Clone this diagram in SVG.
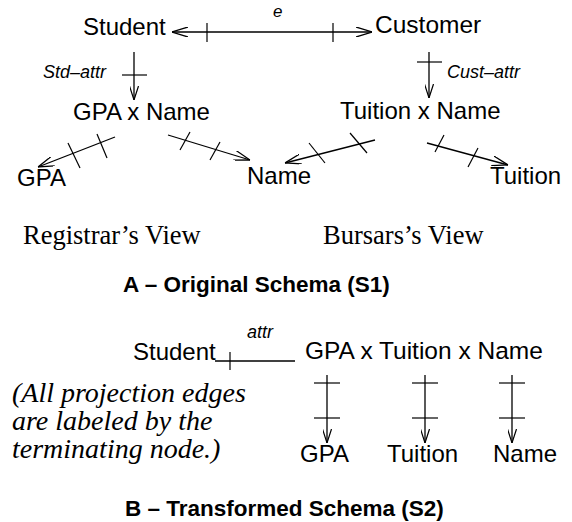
<svg xmlns="http://www.w3.org/2000/svg" width="572" height="522" viewBox="0 0 572 522">
  <style>
    .node { font-family: "Liberation Sans", Arial, sans-serif; font-size: 24px; fill: #000; }
    .lbl { font-family: "Liberation Sans", Arial, sans-serif; font-size: 18px; font-style: italic; fill: #000; }
    .view { font-family: "Liberation Serif", "Times New Roman", serif; font-size: 26.5px; fill: #000; }
    .note { font-family: "Liberation Serif", "Times New Roman", serif; font-size: 28px; font-style: italic; fill: #000; }
    .title { font-family: "Liberation Sans", Arial, sans-serif; font-size: 22.5px; font-weight: bold; fill: #000; }
    .edge { stroke: #000; stroke-width: 1.3; fill: none; }
    .tick { stroke: #000; stroke-width: 1.2; fill: none; }
  </style>
  <defs>
    <marker id="open" viewBox="0 0 16 10" refX="16" refY="5" markerWidth="16" markerHeight="10" markerUnits="userSpaceOnUse" orient="auto-start-reverse">
      <path d="M0,0 L16,5 L0,10" fill="none" stroke="#000" stroke-width="1.3"/>
    </marker>
    <marker id="openS" viewBox="0 0 14 9" refX="14" refY="4.5" markerWidth="14" markerHeight="9" markerUnits="userSpaceOnUse" orient="auto">
      <path d="M0,0 L14,4.5 L0,9" fill="none" stroke="#000" stroke-width="1.2"/>
    </marker>
  </defs>

  <!-- A: original schema -->
  <g id="a-student"><text class="node" x="83" y="35">Student</text></g>
  <g id="a-customer"><text class="node" x="375" y="33" style="font-size:24.5px">Customer</text></g>
  <g id="a-gpa-name"><text class="node" x="73" y="120">GPA x Name</text></g>
  <g id="a-tuition-name"><text class="node" x="340" y="119">Tuition x Name</text></g>
  <g id="a-gpa"><text class="node" x="17" y="186">GPA</text></g>
  <g id="a-name"><text class="node" x="247" y="184">Name</text></g>
  <g id="a-tuition"><text class="node" x="490" y="184">Tuition</text></g>

  <g id="a-connectors">
    <!-- e : Student <-> Customer -->
    <line class="edge" x1="172" y1="32" x2="372" y2="32" marker-start="url(#open)" marker-end="url(#open)"/>
    <line class="tick" x1="207" y1="23" x2="207" y2="42"/>
    <line class="tick" x1="333" y1="23" x2="333" y2="42"/>
    <text class="lbl" x="273" y="17" style="font-size:17px">e</text>

    <!-- Std-attr -->
    <line class="edge" x1="134" y1="52" x2="134" y2="100" marker-end="url(#openS)"/>
    <line class="tick" x1="122" y1="75" x2="147" y2="75"/>
    <text class="lbl" x="43" y="78">Std–attr</text>

    <!-- Cust-attr -->
    <line class="edge" x1="429" y1="52" x2="429" y2="98" marker-end="url(#openS)"/>
    <line class="tick" x1="417" y1="62" x2="442" y2="62"/>
    <text class="lbl" x="447" y="78">Cust–attr</text>

    <!-- GPA x Name projections -->
    <line class="edge" x1="115" y1="137" x2="38" y2="167" marker-end="url(#open)"/>
    <line class="tick" x1="68" y1="143" x2="80" y2="168"/>
    <line class="tick" x1="97" y1="134" x2="107" y2="158"/>
    <line class="edge" x1="168" y1="135" x2="250" y2="160" marker-end="url(#open)"/>
    <line class="tick" x1="190" y1="132" x2="180" y2="150"/>
    <line class="tick" x1="220" y1="142" x2="210" y2="160"/>

    <!-- Tuition x Name projections -->
    <line class="edge" x1="375" y1="140" x2="285" y2="163" marker-end="url(#open)"/>
    <line class="tick" x1="350" y1="133" x2="367" y2="153"/>
    <line class="tick" x1="309" y1="143" x2="325" y2="163"/>
    <line class="edge" x1="427" y1="143" x2="508" y2="165" marker-end="url(#open)"/>
    <line class="tick" x1="444" y1="135" x2="435" y2="152"/>
    <line class="tick" x1="478" y1="148" x2="468" y2="167"/>
  </g>

  <text class="view" x="23" y="244">Registrar’s View</text>
  <text class="view" x="323" y="244">Bursars’s View</text>
  <text class="title" x="123" y="292">A – Original Schema (S1)</text>

  <!-- B: transformed schema -->
  <g id="b-student"><text class="node" x="133" y="360">Student</text></g>
  <g id="b-product"><text class="node" x="305" y="359" style="font-size:24.5px">GPA x Tuition x Name</text></g>
  <g id="b-gpa"><text class="node" x="300" y="462">GPA</text></g>
  <g id="b-tuition"><text class="node" x="387" y="462">Tuition</text></g>
  <g id="b-name"><text class="node" x="493" y="462">Name</text></g>

  <g id="b-connectors">
    <line class="edge" x1="215" y1="361" x2="295" y2="361"/>
    <line class="tick" x1="230" y1="352" x2="230" y2="370"/>
    <text class="lbl" x="247" y="338">attr</text>

    <line class="edge" x1="327" y1="375" x2="327" y2="443" marker-end="url(#openS)"/>
    <line class="tick" x1="314" y1="383" x2="340" y2="383"/>
    <line class="tick" x1="314" y1="418" x2="340" y2="418"/>

    <line class="edge" x1="425" y1="375" x2="425" y2="443" marker-end="url(#openS)"/>
    <line class="tick" x1="412" y1="383" x2="438" y2="383"/>
    <line class="tick" x1="412" y1="418" x2="438" y2="418"/>

    <line class="edge" x1="512" y1="375" x2="512" y2="443" marker-end="url(#openS)"/>
    <line class="tick" x1="499" y1="383" x2="525" y2="383"/>
    <line class="tick" x1="499" y1="418" x2="525" y2="418"/>
  </g>

  <text class="note" x="12" y="402">(All projection edges</text>
  <text class="note" x="12" y="430">are labeled by the</text>
  <text class="note" x="12" y="458">terminating node.)</text>

  <text class="title" x="125" y="516">B – Transformed Schema (S2)</text>
</svg>
